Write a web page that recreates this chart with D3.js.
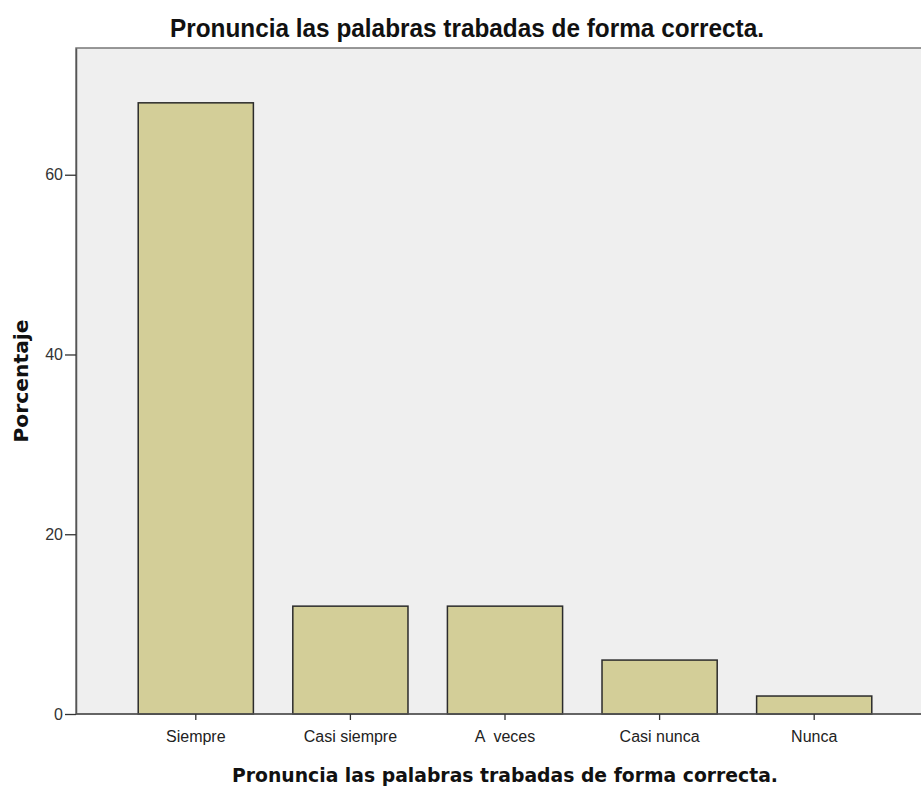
<!DOCTYPE html>
<html>
<head>
<meta charset="utf-8">
<script src="https://cdn.jsdelivr.net/npm/d3@7"></script>
<style>
  body { margin: 0; background: #fff; }
  svg { display: block; font-family: "Liberation Sans", Arial, sans-serif; }
</style>
</head>
<body>
<div id="chart"></div>
<script>
var categories = ['Siempre', 'Casi siempre', 'A  veces', 'Casi nunca', 'Nunca'];
var percentages = [68, 12, 12, 6, 2];
var yTicks = [0, 20, 40, 60];
var chartTitle = 'Pronuncia las palabras trabadas de forma correcta.';
var xTitle = 'Pronuncia las palabras trabadas de forma correcta.';
var yTitle = 'Porcentaje';

var width = 921,
    height = 789;

var plot = { left: 76, top: 48, right: 934, bottom: 714 };

var svg = d3.select('#chart').append('svg')
    .attr('width', width).attr('height', height);

var x = d3.scaleBand().domain(categories)
    .range([118.5, 891.5])
    .paddingInner(0.255).paddingOuter(0.1275);

var y = d3.scaleLinear().domain([0, 74.1])
    .range([plot.bottom, plot.top]);

// plot background
svg.append('rect')
    .attr('x', plot.left).attr('y', plot.top)
    .attr('width', plot.right - plot.left).attr('height', plot.bottom - plot.top)
    .attr('fill', '#efefef')
    .attr('stroke', '#777').attr('stroke-width', 1.5);

// bars
svg.selectAll('rect.bar')
    .data(percentages).enter().append('rect')
        .attr('class', 'bar')
        .attr('x', function(d, i){ return x(categories[i]); })
        .attr('y', function(d){ return y(d); })
        .attr('width', x.bandwidth())
        .attr('height', function(d){ return y(0) - y(d); })
        .attr('fill', '#d3ce98')
        .attr('stroke', '#2b2b2b').attr('stroke-width', 1.5);

// y axis
var yAxis = svg.append('g')
    .attr('transform', 'translate(' + plot.left + ',0)')
    .call(d3.axisLeft(y).tickValues(yTicks).tickSizeInner(11).tickSizeOuter(0).tickPadding(2));
yAxis.select('.domain').attr('stroke', '#555').attr('stroke-width', 1.5);
yAxis.selectAll('.tick line').attr('stroke', '#333').attr('stroke-width', 1.3);
yAxis.selectAll('.tick text')
    .attr('fill', '#333').style('font-size', '16px')
    .style('font-family', '"Liberation Sans", Arial, sans-serif');

// x axis
var xAxis = svg.append('g')
    .attr('transform', 'translate(0,' + plot.bottom + ')')
    .call(d3.axisBottom(x).tickSizeInner(6).tickSizeOuter(0).tickPadding(11));
xAxis.select('.domain').attr('stroke', '#555').attr('stroke-width', 1.5)
    .attr('d', 'M' + plot.left + ',0H' + plot.right);
xAxis.selectAll('.tick line').attr('stroke', '#333').attr('stroke-width', 1.3);
xAxis.selectAll('.tick text')
    .attr('fill', '#222').style('font-size', '16px')
    .style('white-space', 'pre')
    .style('font-family', '"Liberation Sans", Arial, sans-serif');

// titles
svg.append('text')
    .attr('x', 467).attr('y', 37)
    .attr('text-anchor', 'middle')
    .attr('textLength', 594).attr('lengthAdjust', 'spacingAndGlyphs')
    .style('font-size', '26px').style('font-weight', 'bold')
    .style('font-family', '"Liberation Sans", Arial, sans-serif')
    .attr('fill', '#111')
    .text(chartTitle);

svg.append('text')
    .attr('x', 505).attr('y', 782)
    .attr('text-anchor', 'middle')
    .attr('textLength', 546).attr('lengthAdjust', 'spacingAndGlyphs')
    .style('font-size', '19px').style('font-weight', 'bold')
    .style('font-family', '"DejaVu Sans", Verdana, sans-serif')
    .attr('fill', '#111')
    .text(xTitle);

svg.append('text')
    .attr('transform', 'translate(28,' + ((plot.top + plot.bottom) / 2) + ')rotate(-90)')
    .attr('text-anchor', 'middle')
    .attr('textLength', 123).attr('lengthAdjust', 'spacingAndGlyphs')
    .style('font-size', '19px').style('font-weight', 'bold')
    .style('font-family', '"DejaVu Sans", Verdana, sans-serif')
    .attr('fill', '#111')
    .text(yTitle);
</script>
</body>
</html>
